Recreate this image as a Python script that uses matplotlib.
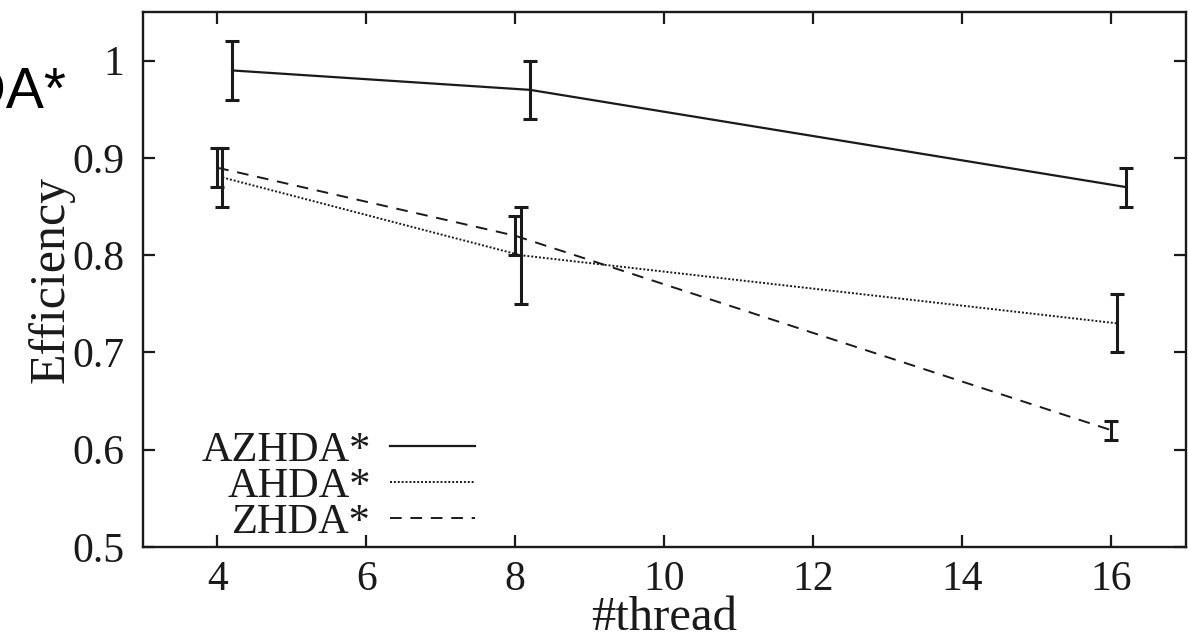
import matplotlib
matplotlib.use("Agg")
import matplotlib.pyplot as plt
from matplotlib.ticker import FuncFormatter

# thread counts and efficiency (mean, half-width of error bar) per variant
threads = [4, 8, 16]

azhda_eff = [0.99, 0.97, 0.87]
azhda_err = [0.03, 0.03, 0.02]

ahda_eff = [0.88, 0.80, 0.73]
ahda_err = [0.03, 0.05, 0.03]

zhda_eff = [0.89, 0.82, 0.62]
zhda_err = [0.02, 0.02, 0.01]

series_names = ["AZHDA*", "AHDA*", "ZHDA*"]

INK = "#1a1a1a"
SERIF = "Liberation Serif"

fig = plt.figure(figsize=(11.88, 6.36), dpi=100)
ax = fig.add_axes([0.1201, 0.140, 0.8782, 0.841])

# small x shift per series, like the original plot (keeps bars from overlapping)
styles = [
    dict(ls="-", lw=1.6, shift=0.2),
    dict(ls=(0, (1.0, 1.0)), lw=1.4, shift=0.07),
    dict(ls=(0, (6, 4.5)), lw=1.4, shift=0.0),
]
values = [(azhda_eff, azhda_err), (ahda_eff, ahda_err), (zhda_eff, zhda_err)]

for name, (eff, err), st in zip(series_names, values, styles):
    xs = [t + st["shift"] for t in threads]
    ax.plot(xs, eff, color=INK, ls=st["ls"], lw=st["lw"], label=name)
    ax.errorbar(xs, eff, yerr=err, fmt="none", ecolor=INK,
                elinewidth=2.2, capsize=5, capthick=2.2)

ax.set_xlim(3, 17)
ax.set_ylim(0.5, 1.05)
ax.set_xticks(range(4, 17, 2))
ax.set_yticks([0.5, 0.6, 0.7, 0.8, 0.9, 1.0])
ax.yaxis.set_major_formatter(FuncFormatter(lambda v, _: f"{v:g}"))

for sp in ax.spines.values():
    sp.set_linewidth(1.7)
    sp.set_color(INK)

ax.tick_params(which="major", direction="in", length=8.5, width=1.6,
               top=True, right=True, colors=INK, labelsize=30)
ax.tick_params(axis="x", pad=10)
ax.tick_params(axis="y", pad=13)
for lab in ax.get_xticklabels() + ax.get_yticklabels():
    lab.set_family(SERIF)

ax.set_xlabel("#thread", family=SERIF, fontsize=35, color=INK)
ax.xaxis.set_label_coords(0.5, -0.092)
ax.set_ylabel("Efficiency", family=SERIF, fontsize=36, color=INK)
ax.yaxis.set_label_coords(-0.065, 0.5)

leg = ax.legend(loc="lower right", bbox_to_anchor=(0.3185, 0.01),
                frameon=False, markerfirst=False, handlelength=2.0,
                handletextpad=0.45, labelspacing=-0.07, borderpad=0,
                borderaxespad=0, prop={"family": SERIF, "size": 30.5})
for t in leg.get_texts():
    t.set_color(INK)

# stray label fragment sitting at the top-left edge of the original image
fig.text(66 / 1188, 1 - 108 / 636, "ZHDA*", ha="right", va="baseline",
         fontsize=41, family="Liberation Sans", color="black")

fig.savefig("out.png", dpi=100)
